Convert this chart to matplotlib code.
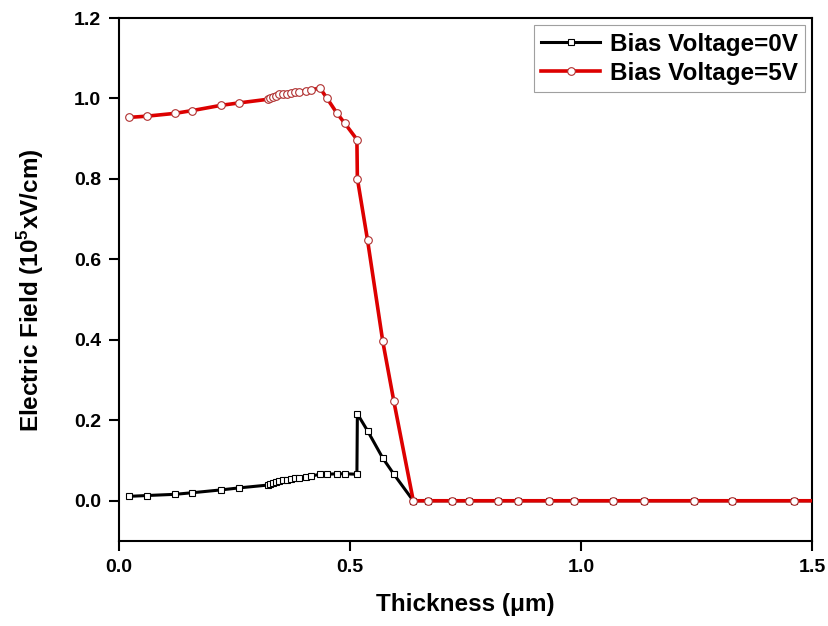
import numpy as np
import matplotlib
matplotlib.use("Agg")
import matplotlib.pyplot as plt

# --------------------------
# Data
# --------------------------
thickness = [0.022, 0.060, 0.121, 0.159, 0.221, 0.260, 0.322, 0.327, 0.333, 0.339,
             0.346, 0.354, 0.363, 0.372, 0.381, 0.390, 0.404, 0.415, 0.435, 0.450,
             0.472, 0.489, 0.515, 0.516, 0.538, 0.571, 0.595, 0.637, 0.669, 0.720,
             0.758, 0.821, 0.863, 0.931, 0.984, 1.070, 1.136, 1.244, 1.327, 1.460, 1.500]

field_0v = [0.011, 0.013, 0.016, 0.020, 0.027, 0.032, 0.039, 0.042, 0.045, 0.047,
            0.049, 0.051, 0.052, 0.054, 0.056, 0.057, 0.060, 0.061, 0.066, 0.066,
            0.067, 0.067, 0.066, 0.216, 0.174, 0.106, 0.066, 0.0, 0.0, 0.0,
            0.0, 0.0, 0.0, 0.0, 0.0, 0.0, 0.0, 0.0, 0.0, 0.0, 0.0]

field_5v = [0.953, 0.956, 0.963, 0.970, 0.983, 0.989, 0.998, 1.000, 1.004, 1.007,
            1.010, 1.011, 1.012, 1.013, 1.015, 1.016, 1.019, 1.021, 1.026, 1.001,
            0.963, 0.938, 0.898, 0.801, 0.648, 0.396, 0.247, 0.0, 0.0, 0.0,
            0.0, 0.0, 0.0, 0.0, 0.0, 0.0, 0.0, 0.0, 0.0, 0.0, 0.0]

labels = ["Bias Voltage=0V", "Bias Voltage=5V"]

plt.rcParams['font.family'] = ['Liberation Sans', 'DejaVu Sans']
plt.rcParams['font.weight'] = 'bold'
plt.rcParams['mathtext.fontset'] = 'custom'
plt.rcParams['mathtext.bf'] = 'Liberation Sans:bold'

fig = plt.figure(figsize=(8.29, 6.26), dpi=100)
ax = fig.add_axes([0.1435, 0.1358, 0.836, 0.8354])

n = len(thickness)
mark = list(range(n - 1))  # last point sits on the frame, no marker there

ax.plot(thickness, field_0v, color='black', lw=2.2, marker='s', ms=5,
        mfc='white', mec='black', mew=0.8, markevery=mark, label=labels[0], zorder=3)
ax.plot(thickness, field_5v, color='#dd0000', lw=2.6, marker='o', ms=5.5,
        mfc='white', mec='#b03030', mew=0.8, markevery=mark, label=labels[1], zorder=4)

ax.set_xlim(0, 1.5)
ax.set_ylim(-0.1, 1.2)
ax.set_xticks([0.0, 0.5, 1.0, 1.5])
ax.set_yticks([0.0, 0.2, 0.4, 0.6, 0.8, 1.0, 1.2])
ax.xaxis.set_major_formatter(plt.FormatStrFormatter('%.1f'))
ax.yaxis.set_major_formatter(plt.FormatStrFormatter('%.1f'))

for s in ax.spines.values():
    s.set_linewidth(1.5)
ax.tick_params(direction='out', length=7, width=1.5, labelsize=14, pad=6)

ax.set_xlabel("Thickness (\u03bcm)", fontsize=17.5, fontweight='bold', labelpad=12)
ax.set_ylabel(r"Electric Field (10$^{\mathbf{5}}$xV/cm)", fontsize=17.5,
              fontweight='bold')
ax.yaxis.set_label_coords(-0.105, 0.48)

leg = ax.legend(loc='upper right', fontsize=17.5, frameon=True, fancybox=False,
                edgecolor='#888888', handlelength=2.4, handletextpad=0.4,
                borderpad=0.3, labelspacing=0.25, borderaxespad=0.3)
leg.get_frame().set_linewidth(0.8)

fig.savefig("out.png", dpi=100)
